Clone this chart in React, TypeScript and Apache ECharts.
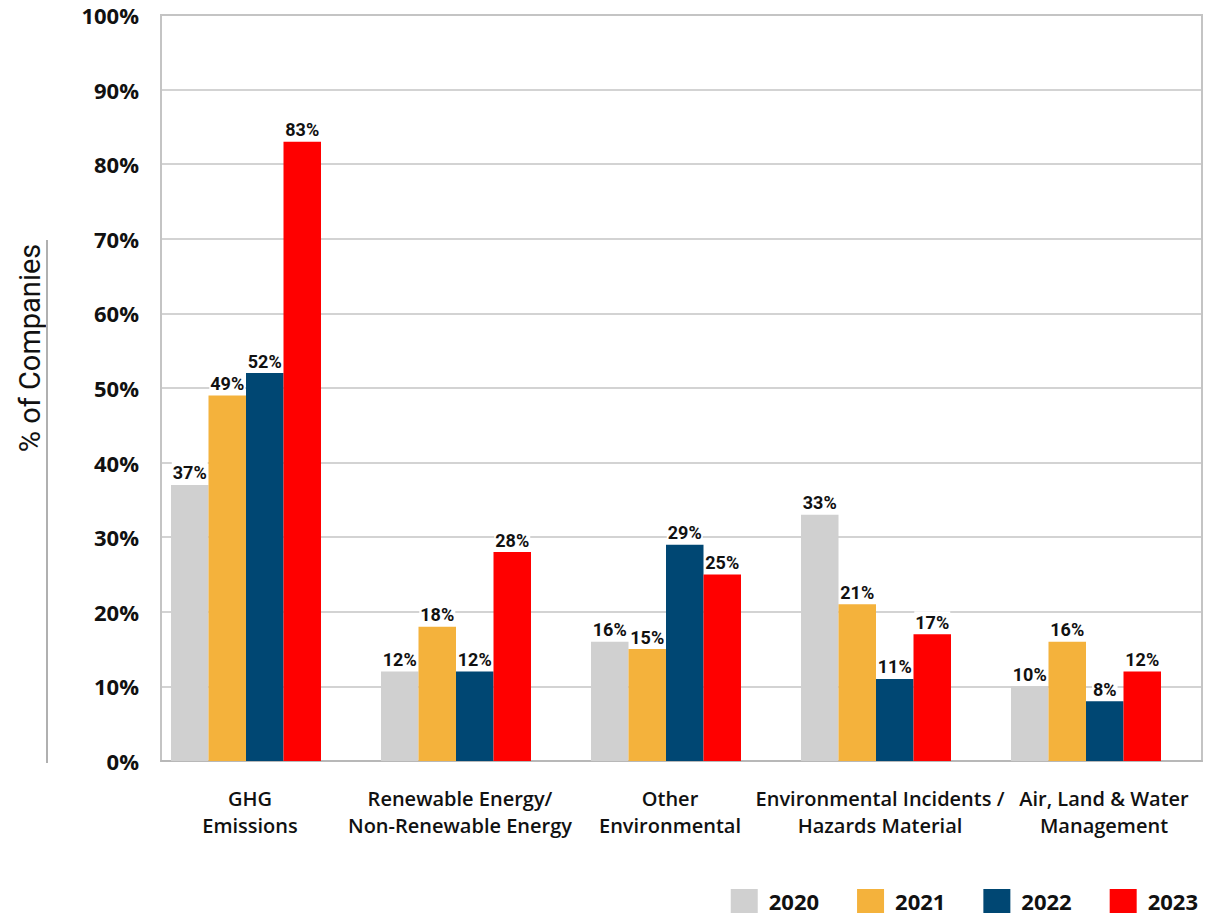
import React, { useEffect, useRef } from "react";
import * as echarts from "echarts";

const categories = [
  "GHG\nEmissions",
  "Renewable Energy/\nNon-Renewable Energy",
  "Other\nEnvironmental",
  "Environmental Incidents /\nHazards Material",
  "Air, Land & Water\nManagement",
];
const years = ["2020", "2021", "2022", "2023"];
const values2020 = [37, 12, 16, 33, 10];
const values2021 = [49, 18, 15, 21, 16];
const values2022 = [52, 12, 29, 11, 8];
const values2023 = [83, 28, 25, 17, 12];
const yearColors = ["#d0d0d0", "#f4b23c", "#004773", "#ff0000"];
const yTicks = [0, 10, 20, 30, 40, 50, 60, 70, 80, 90, 100];

export default function App() {
  const ref = useRef<HTMLDivElement>(null);

  useEffect(() => {
    if (!ref.current) return;
    const chart = echarts.init(ref.current, undefined, { renderer: "svg" });
    const seriesData = [values2020, values2021, values2022, values2023];
    const labelFont = "Roboto, 'Noto Sans', sans-serif";
    const axisFont = "'Open Sans', 'Noto Sans', sans-serif";

    // the last category label sits a little right of its bar group
    const categoryItems = categories.map((c, i) =>
      i === categories.length - 1
        ? { value: c, textStyle: { padding: [0, 0, 0, 36] } }
        : { value: c, textStyle: { padding: [0, 0, 0, 8] } }
    );

    chart.setOption({
      animation: false,
      backgroundColor: "#ffffff",
      grid: [
        { left: 161, right: 3, top: 15, bottom: 154, show: true, borderColor: "#c4c4c4", borderWidth: 2 },
        { left: 141, right: 14, top: 15, bottom: 154 },
      ],
      legend: {
        right: 2,
        top: 884,
        width: 490,
        itemWidth: 27,
        itemHeight: 24,
        itemGap: 38,
        icon: "rect",
        data: years,
        textStyle: {
          fontFamily: axisFont,
          fontWeight: 700,
          fontSize: 22,
          lineHeight: 24,
          color: "#111",
          padding: [0, 0, 0, 6],
        },
      },
      xAxis: [
        {
          type: "category",
          gridIndex: 0,
          data: categories,
          axisLine: { show: true, lineStyle: { color: "#b8b8b8", width: 2 } },
          axisTick: { show: false },
          axisLabel: { show: false },
        },
        {
          type: "category",
          gridIndex: 1,
          data: categoryItems,
          axisLine: { show: false },
          axisTick: { show: false },
          axisLabel: {
            margin: 24,
            fontFamily: axisFont,
            fontWeight: 600,
            fontSize: 20,
            lineHeight: 27,
            color: "#111",
            interval: 0,
          },
        },
      ],
      yAxis: [
        {
          type: "value",
          gridIndex: 0,
          min: yTicks[0],
          max: yTicks[yTicks.length - 1],
          interval: 10,
          axisLine: { show: false },
          axisTick: { show: false },
          splitLine: { lineStyle: { color: "#c4c4c4", width: 1.5 } },
          axisLabel: {
            margin: 22,
            formatter: "{value}%",
            fontFamily: axisFont,
            fontWeight: 700,
            fontSize: 22,
            color: "#111",
            padding: [8, 0, 0, 0],
          },
        },
        {
          type: "value",
          gridIndex: 1,
          min: yTicks[0],
          max: yTicks[yTicks.length - 1],
          interval: 10,
          show: false,
          splitLine: { show: false },
        },
      ],
      series: years.map((y, i) => ({
        name: y,
        type: "bar",
        xAxisIndex: 1,
        yAxisIndex: 1,
        data: seriesData[i],
        barWidth: 37.5,
        barGap: "0%",
        itemStyle: { color: yearColors[i] },
        label: {
          show: true,
          position: "top",
          distance: 3,
          formatter: "{c}%",
          fontFamily: labelFont,
          fontWeight: 700,
          fontSize: 18,
          color: "#111",
          backgroundColor: "#ffffff",
          padding: [2, 1, 0, 1],
        },
      })),
      graphic: [
        {
          type: "text",
          x: 30,
          y: 348,
          rotation: Math.PI / 2,
          style: {
            text: "% of Companies",
            fontFamily: "Roboto, 'Liberation Sans', sans-serif",
            fontSize: 29,
            fill: "#111",
            align: "center",
            verticalAlign: "middle",
          },
        },
        {
          type: "line",
          shape: { x1: 47, y1: 240, x2: 47, y2: 763 },
          style: { stroke: "#b0b0b0", lineWidth: 2 },
        },
      ],
    });

    return () => chart.dispose();
  }, []);

  return (
    <div
      ref={ref}
      style={{ position: "absolute", left: 0, top: 0, width: 1205, height: 915 }}
    />
  );
}
